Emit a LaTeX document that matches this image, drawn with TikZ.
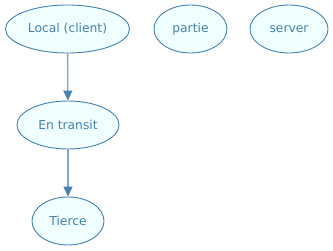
\documentclass[tikz,border=0pt]{standalone}
\usepackage{fontspec}
\setmainfont{DejaVu Sans}
\usetikzlibrary{shapes.geometric,arrows.meta}
\definecolor{steel}{HTML}{4682B4}
\definecolor{azurefill}{HTML}{F0FFFF}
\tikzset{
  st/.style={ellipse,draw=steel,fill=azurefill,line width=0.9pt,text=steel,font=\fontsize{12.3}{14}\selectfont,inner sep=0pt,minimum height=48pt},
  edge/.style={draw=steel!70!white,line width=1.3pt,-{Triangle[length=10pt,width=9pt,color=steel]}}
}
\begin{document}
\begin{tikzpicture}[x=1pt,y=-1pt]
\useasboundingbox (0,0) rectangle (333,251);
\node[st,minimum width=124pt] (local) at (67.5,29) {Local (client)};
\node[st,minimum width=73pt] (partie) at (190.5,29) {partie};
\node[st,minimum width=78pt] (server) at (289,29) {server};
\node[st,minimum width=102pt] (transit) at (68,125) {En transit};
\node[st,minimum width=72pt] (tierce) at (68,221) {Tierce};
\draw[edge] (local) -- (transit);
\draw[edge] (transit) -- (tierce);
\end{tikzpicture}
\end{document}
